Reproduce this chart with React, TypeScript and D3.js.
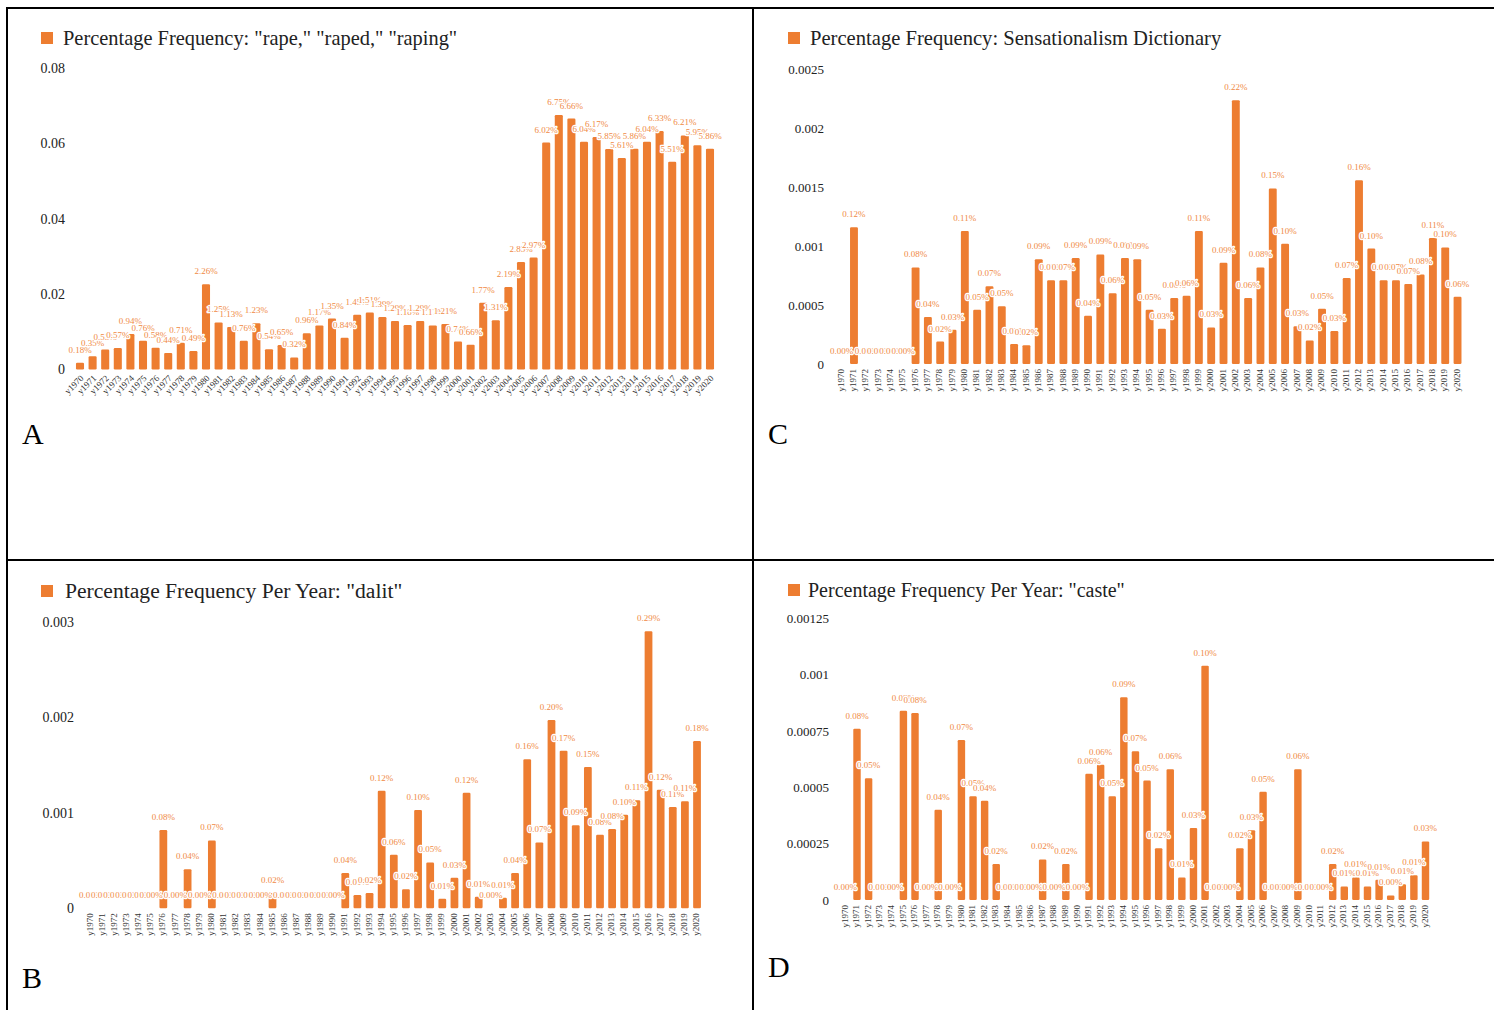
import React from 'react';
import * as d3 from 'd3';

// categories
const years = d3.range(1970, 2021).map((y) => 'y' + y);

// "rape," "raped," "raping"
const rapeValues = [
  0.0018, 0.0035, 0.0053, 0.0057, 0.0094, 0.0076, 0.0058, 0.0044, 0.0071, 0.0049,
  0.0226, 0.0125, 0.0113, 0.0076, 0.0123, 0.0054, 0.0065, 0.0032, 0.0096, 0.0117,
  0.0135, 0.0084, 0.0145, 0.0151, 0.0139, 0.0129, 0.0118, 0.0129, 0.0117, 0.0121,
  0.0074, 0.0066, 0.0177, 0.0131, 0.0219, 0.0285, 0.0297, 0.0602, 0.0675, 0.0666,
  0.0604, 0.0617, 0.0585, 0.0561, 0.0586, 0.0604, 0.0633, 0.0551, 0.0621, 0.0595,
  0.0586,
];

// Sensationalism Dictionary
const sensationValues = [
  0, 0.00116, 0, 0, 0, 0, 0.00082, 0.0004, 0.00019, 0.00029,
  0.00113, 0.00046, 0.00066, 0.00049, 0.00017, 0.00016, 0.00089, 0.00071, 0.00071, 0.0009,
  0.00041, 0.00093, 0.0006, 0.0009, 0.00089, 0.00046, 0.0003, 0.00056, 0.00058, 0.00113,
  0.00031, 0.00086, 0.00224, 0.00056, 0.00082, 0.00149, 0.00102, 0.00032, 0.0002, 0.00047,
  0.00028, 0.00073, 0.00156, 0.00098, 0.00071, 0.00071, 0.00068, 0.00076, 0.00107, 0.00099,
  0.00057,
];

// "dalit"
const dalitValues = [
  0, 0, 0, 0, 0, 0, 0.00082, 0, 0.00041, 0,
  0.00071, 0, 0, 0, 0, 0.00016, 0, 0, 0, 0,
  0, 0.00037, 0.00014, 0.00016, 0.00123, 0.00056, 0.0002, 0.00103, 0.00048, 0.0001,
  0.00032, 0.00121, 0.00012, 0, 0.00011, 0.00037, 0.00156, 0.00069, 0.00197, 0.00165,
  0.00087, 0.00148, 0.00077, 0.00083, 0.00098, 0.00113, 0.0029, 0.00124, 0.00106, 0.00112,
  0.00175,
];

// "caste"
const casteValues = [
  0, 0.00076, 0.00054, 0, 0, 0.00084, 0.00083, 0, 0.0004, 0,
  0.00071, 0.00046, 0.00044, 0.00016, 0, 0, 0, 0.00018, 0, 0.00016,
  0, 0.00056, 0.0006, 0.00046, 0.0009, 0.00066, 0.00053, 0.00023, 0.00058, 0.0001,
  0.00032, 0.00104, 0, 0, 0.00023, 0.00031, 0.00048, 0, 0, 0.00058,
  0, 0, 0.00016, 0.00006, 0.0001, 0.00006, 0.00009, 0.00002, 0.00007, 0.00011,
  0.00026,
];

const rapeTicks = [0, 0.02, 0.04, 0.06, 0.08];
const sensationTicks = [0, 0.0005, 0.001, 0.0015, 0.002, 0.0025];
const dalitTicks = [0, 0.001, 0.002, 0.003];
const casteTicks = [0, 0.00025, 0.0005, 0.00075, 0.001, 0.00125];

const ORANGE = '#ED7D31';
const SERIF = '"Liberation Serif", "Times New Roman", serif';

function Panel({ title, titleSize, values, ticks, xRange, yRange, axisRight, tickSize, rotate, titleX, titleY, squareX }) {
  const x = d3.scaleBand().domain(years).range(xRange).paddingInner(0.36).paddingOuter(0.18);
  const y = d3.scaleLinear().domain([ticks[0], ticks[ticks.length - 1]]).range(yRange);
  const y0 = y(0);
  const bw = x.bandwidth();

  return (
    <g>
      <rect x={squareX} y={titleY - 13} width={12} height={12} fill={ORANGE} />
      <text x={titleX} y={titleY} fontSize={titleSize} fill="#222" fontFamily={SERIF}>{title}</text>

      {ticks.map((t) => (
        <text key={t} x={axisRight} y={y(t)} dy="0.35em" textAnchor="end" fontSize={tickSize} fill="#222" fontFamily={SERIF}>
          {String(t)}
        </text>
      ))}

      {values.map((v, i) => (
        <rect key={i} x={x(years[i])} y={y(v)} width={bw} height={y0 - y(v)} fill={ORANGE} rx={1.2} />
      ))}

      {values.map((v, i) => (
        <text
          key={'l' + i}
          x={x(years[i]) + bw / 2}
          y={y(v) - 10}
          textAnchor="middle"
          fontSize={9}
          fontFamily={SERIF}
          fill="#F08A45"
          stroke="#fff"
          strokeWidth={2.5}
          strokeLinejoin="round"
          style={{ paintOrder: 'stroke' }}
        >
          {(v * 100).toFixed(2) + '%'}
        </text>
      ))}

      {years.map((yr) => {
        const cx = x(yr) + bw / 2;
        const tr = rotate === 45
          ? `translate(${cx + 2},${y0 + 7}) rotate(-45)`
          : `translate(${cx - 1},${y0 + 5}) rotate(-90)`;
        return (
          <text key={yr} transform={tr} dy="0.35em" textAnchor="end" fontSize={9} fill="#333" fontFamily={SERIF}>
            {yr}
          </text>
        );
      })}
    </g>
  );
}

export default function App() {
  return (
    <div style={{ position: 'absolute', left: 0, top: 0 }}>
      <svg width={1494} height={1010} style={{ display: 'block', background: '#fff' }}>
        {/* table borders */}
        <g stroke="#000" strokeWidth={2}>
          <line x1={7} y1={8} x2={1494} y2={8} />
          <line x1={7} y1={7} x2={7} y2={1010} />
          <line x1={753} y1={7} x2={753} y2={1010} />
          <line x1={7} y1={560} x2={1494} y2={560} />
        </g>

        <Panel
          title={'Percentage Frequency: "rape," "raped," "raping"'}
          titleSize={20.4}
          values={rapeValues}
          ticks={rapeTicks}
          xRange={[73.7, 716.3]}
          yRange={[369.5, 68]}
          axisRight={65}
          tickSize={14}
          rotate={45}
          squareX={41}
          titleX={63}
          titleY={45}
        />
        <Panel
          title="Percentage Frequency: Sensationalism Dictionary"
          titleSize={20.6}
          values={sensationValues}
          ticks={sensationTicks}
          xRange={[835.5, 1463.7]}
          yRange={[364, 69.5]}
          axisRight={824}
          tickSize={13}
          rotate={90}
          squareX={788}
          titleX={810}
          titleY={45}
        />
        <Panel
          title={'Percentage Frequency Per Year: "dalit"'}
          titleSize={21.6}
          values={dalitValues}
          ticks={dalitTicks}
          xRange={[84.5, 703.1]}
          yRange={[908.3, 621.7]}
          axisRight={74}
          tickSize={14}
          rotate={90}
          squareX={41}
          titleX={65}
          titleY={598}
        />
        <Panel
          title={'Percentage Frequency Per Year: "caste"'}
          titleSize={20}
          values={casteValues}
          ticks={casteTicks}
          xRange={[839.6, 1431.3]}
          yRange={[900, 618.3]}
          axisRight={829}
          tickSize={13}
          rotate={90}
          squareX={788}
          titleX={808}
          titleY={597}
        />

        <g fontFamily={SERIF} fontSize={30} fill="#000">
          <text x={22} y={444}>A</text>
          <text x={768} y={444}>C</text>
          <text x={22} y={988}>B</text>
          <text x={768} y={977}>D</text>
        </g>
      </svg>
    </div>
  );
}
